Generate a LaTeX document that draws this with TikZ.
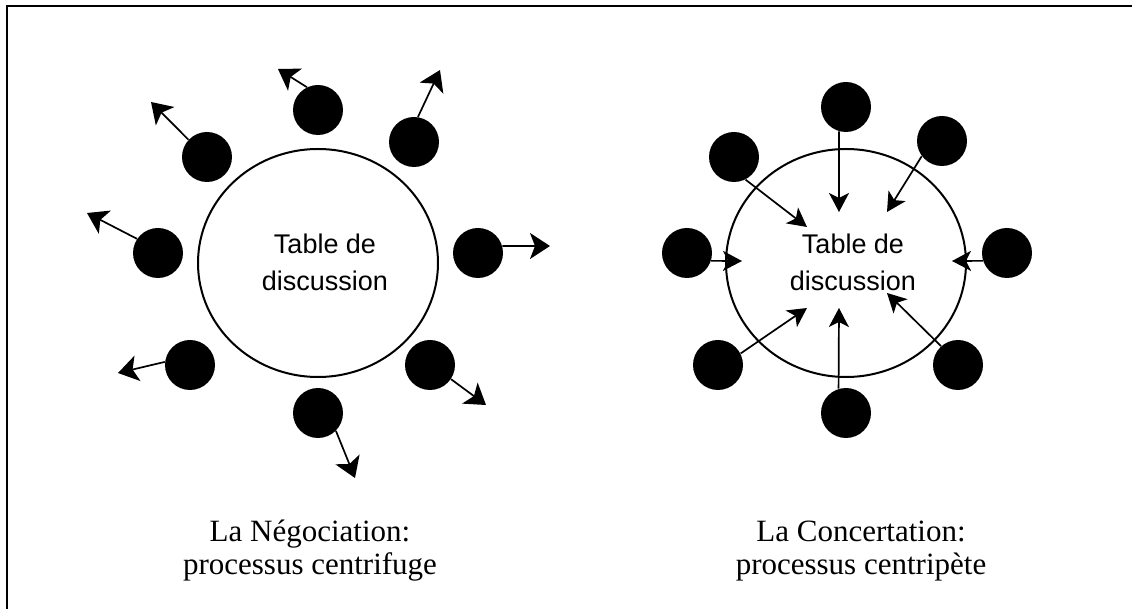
\documentclass[tikz,border=0pt]{standalone}
\usepackage{fontspec}
\setmainfont{Liberation Serif}
\newfontfamily\tablefont{Liberation Sans}
\usetikzlibrary{arrows.meta, shapes.geometric, calc}
\tikzset{
    my-table/.style={
        ellipse, draw, line width=1pt, minimum width=120pt, minimum height=114pt, inner sep=0pt
    },
    my-person/.style={
        fill, shape=circle, minimum size=25pt, inner sep=0pt
    },
    my-out-arrow/.style={
        line width=0.85pt, -{Stealth[length=10pt, width=13pt, inset=2.5pt]}
    },
    my-in-arrow/.style={
        line width=0.85pt, -{Stealth[length=9.5pt, width=10pt, inset=2.5pt]}
    },
    my-table-text/.style={
        align=center, font=\tablefont\fontsize{13.5}{18.5}\selectfont
    },
    my-caption/.style={
        align=center, font=\fontsize{15.5}{16.5}\selectfont
    },
}

\begin{document}
\begin{tikzpicture}[x=0.5pt, y=-0.5pt]

        \useasboundingbox (0,0) rectangle (1132,609);

        % FRAME
        \draw[line width=1pt] (7,609) -- (7,6) -- (1132,6);

        % LEFT TABLE AND TEXT
        \node[my-table]      (TABLEL) at (318,263) {};
        \node[my-table-text] (TEXTL)  at (325,262) {Table de\\discussion};

        % LEFT PEOPLE
        \node[my-person] (PL1) at (318,110) {};
        \node[my-person] (PL2) at (414,142) {};
        \node[my-person] (PL3) at (478,253) {};
        \node[my-person] (PL4) at (430,365) {};
        \node[my-person] (PL5) at (318,413) {};
        \node[my-person] (PL6) at (190,365) {};
        \node[my-person] (PL7) at (158,253) {};
        \node[my-person] (PL8) at (207,157) {};

        % LEFT ARROW TIPS
        \coordinate (TL1) at (278,69);
        \coordinate (TL2) at (440,70);
        \coordinate (TL3) at (550,246);
        \coordinate (TL4) at (486,405);
        \coordinate (TL5) at (355,478);
        \coordinate (TL6) at (118,373);
        \coordinate (TL7) at (87,213);
        \coordinate (TL8) at (151,102);

        % LEFT ARROWS - OUTWARDS
        \draw[my-out-arrow] (PL1.116) -- (TL1);
        \draw[my-out-arrow] (PL2.81)  -- (TL2);
        \draw[my-out-arrow] (PL3.16)  -- (TL3);
        \draw[my-out-arrow] (PL4.-34) -- (TL4);
        \draw[my-out-arrow] (PL5.-45) -- (TL5);
        \draw[my-out-arrow] (PL6.173) -- (TL6);
        \draw[my-out-arrow] (PL7.146) -- (TL7);
        \draw[my-out-arrow] (PL8.137) -- (TL8);

        % RIGHT TABLE AND TEXT
        \node[my-table]      (TABLER) at (846,263) {};
        \node[my-table-text] (TEXTR)  at (853,262) {Table de\\discussion};

        % RIGHT PEOPLE
        \node[my-person] (PR1) at (846,107)  {};
        \node[my-person] (PR2) at (942,141)  {};
        \node[my-person] (PR3) at (1007,253) {};
        \node[my-person] (PR4) at (958,365)  {};
        \node[my-person] (PR5) at (846,413)  {};
        \node[my-person] (PR6) at (718,365)  {};
        \node[my-person] (PR7) at (687,253)  {};
        \node[my-person] (PR8) at (734,157)  {};

        % RIGHT ARROW TIPS
        \coordinate (TR1) at (839,212);
        \coordinate (TR2) at (887,212);
        \coordinate (TR3) at (952,261);
        \coordinate (TR4) at (887,293);
        \coordinate (TR5) at (839,308);
        \coordinate (TR6) at (807,308);
        \coordinate (TR7) at (742,261);
        \coordinate (TR8) at (807,227);

        % RIGHT ARROWS - INWARDS
        \draw[my-in-arrow] (PR1.-106) -- (TR1);
        \draw[my-in-arrow] (PR2.-143) -- (TR2);
        \draw[my-in-arrow] (PR3.-162) -- (TR3);
        \draw[my-in-arrow] (PR4.132)  -- (TR4);
        \draw[my-in-arrow] (PR5.107)  -- (TR5);
        \draw[my-in-arrow] (PR6.27)   -- (TR6);
        \draw[my-in-arrow] (PR7.-18)  -- (TR7);
        \draw[my-in-arrow] (PR8.-63)  -- (TR8);

        % CAPTIONS
        \node[my-caption] (CAPL) at (310,551) {La Négociation:\\processus centrifuge};
        \node[my-caption] (CAPR) at (861,551) {La Concertation:\\processus centripète};

\end{tikzpicture}
\end{document}
